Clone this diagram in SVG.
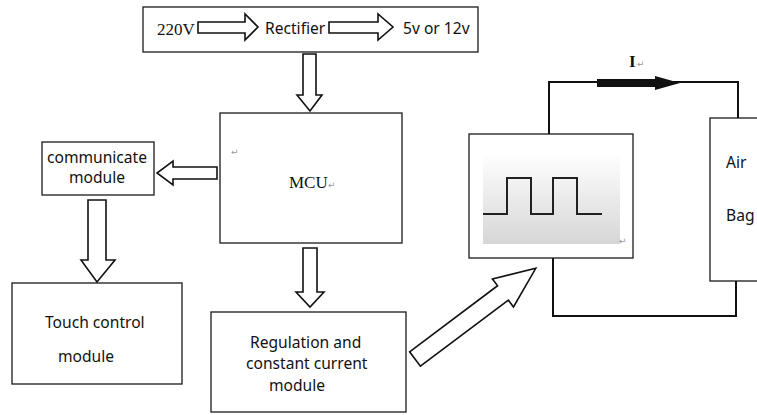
<svg xmlns="http://www.w3.org/2000/svg" width="757" height="415" viewBox="0 0 757 415">
<defs>
<style>
.box{fill:#fff;stroke:#1a1a1a;stroke-width:1.3}
.blk{fill:#fff;stroke:#111;stroke-width:1.6;stroke-linejoin:miter}
.wire{fill:none;stroke:#111;stroke-width:2}
.sans{font-family:"Noto Sans","Open Sans","DejaVu Sans",sans-serif;font-size:15.6px;fill:#111}
.serif{font-family:"Liberation Serif","Times New Roman",serif;font-size:17px;fill:#111}
.pm{font-family:"DejaVu Sans",sans-serif;font-size:9px;fill:#999}
</style>
<linearGradient id="wg" x1="0" y1="0" x2="0" y2="1">
<stop offset="0" stop-color="#ffffff"/>
<stop offset="1" stop-color="#d6d6d6"/>
</linearGradient>
</defs>
<rect width="757" height="415" fill="#fff"/>

<g id="power">
<rect class="box" x="143" y="7" width="335" height="45"/>
<text class="serif" x="157" y="35">220V</text>
<text class="sans" x="265" y="34">Rectifier</text>
<text class="sans" x="403" y="34">5v or 12v</text>
</g>

<g id="mcu">
<rect class="box" x="220" y="113" width="182" height="130"/>
<text class="serif" x="289" y="188">MCU</text>
<text class="pm" x="328" y="188">↵</text>
<text class="pm" x="231" y="155">↵</text>
</g>

<g id="communicate">
<rect class="box" x="42" y="142" width="112" height="53"/>
<text class="sans" x="97" y="163" text-anchor="middle">communicate</text>
<text class="sans" x="97" y="183" text-anchor="middle">module</text>
</g>

<g id="touch">
<rect class="box" x="12" y="283" width="170" height="101"/>
<text class="sans" x="45" y="328">Touch control</text>
<text class="sans" x="58" y="362">module</text>
</g>

<g id="regulation">
<rect class="box" x="211" y="312" width="195" height="100"/>
<text class="sans" x="250" y="348">Regulation and</text>
<text class="sans" x="246" y="369">constant current</text>
<text class="sans" x="269" y="391">module</text>
</g>

<g id="pwm">
<rect class="box" x="469" y="134" width="164" height="124"/>
<rect x="483" y="153" width="137" height="91" fill="url(#wg)"/>
<polyline fill="none" stroke="#222" stroke-width="2" points="483,214 507,214 507,178 531,178 531,214 553,214 553,178 577,178 577,214 602,214"/>
<text class="pm" x="619" y="244">↵</text>
</g>

<g id="airbag">
<rect class="box" x="710" y="118" width="60" height="163"/>
<text class="sans" x="726" y="168">Air</text>
<text class="sans" x="726" y="221">Bag</text>
</g>

<g id="connectors">
<polygon class="blk" points="198,22 245,22 245,14 258,27 245,40 245,33 198,33"/>
<polygon class="blk" points="329,22 378,22 378,14 393,27 378,40 378,33 329,33"/>
<polygon class="blk" points="303,54 316,54 316,95 322,95 310,111 297,95 303,95"/>
<polygon class="blk" points="217,167 173,167 173,161 157,173 173,185 173,179 217,179"/>
<polygon class="blk" points="88,200 106,200 106,260 115,260 97,282 81,260 88,260"/>
<polygon class="blk" points="303,248 317,248 317,292 324,292 310,307 296,292 303,292"/>
<polygon class="blk" transform="translate(415,359) rotate(-36.9)" points="0,-9 110,-9 110,-17.5 151,0 110,17.5 110,9 0,9"/>
<polyline class="wire" points="549,134 549,82 738,82 738,118"/>
<polyline class="wire" points="553,258 553,316 736,316 736,281"/>
<polygon fill="#111" points="597,79 655,79 655,76 680,83 655,90 655,87 597,87"/>
<text class="serif" x="629" y="67" font-weight="bold" font-size="15">I</text>
<text class="pm" x="637" y="67">↵</text>
</g>
</svg>
